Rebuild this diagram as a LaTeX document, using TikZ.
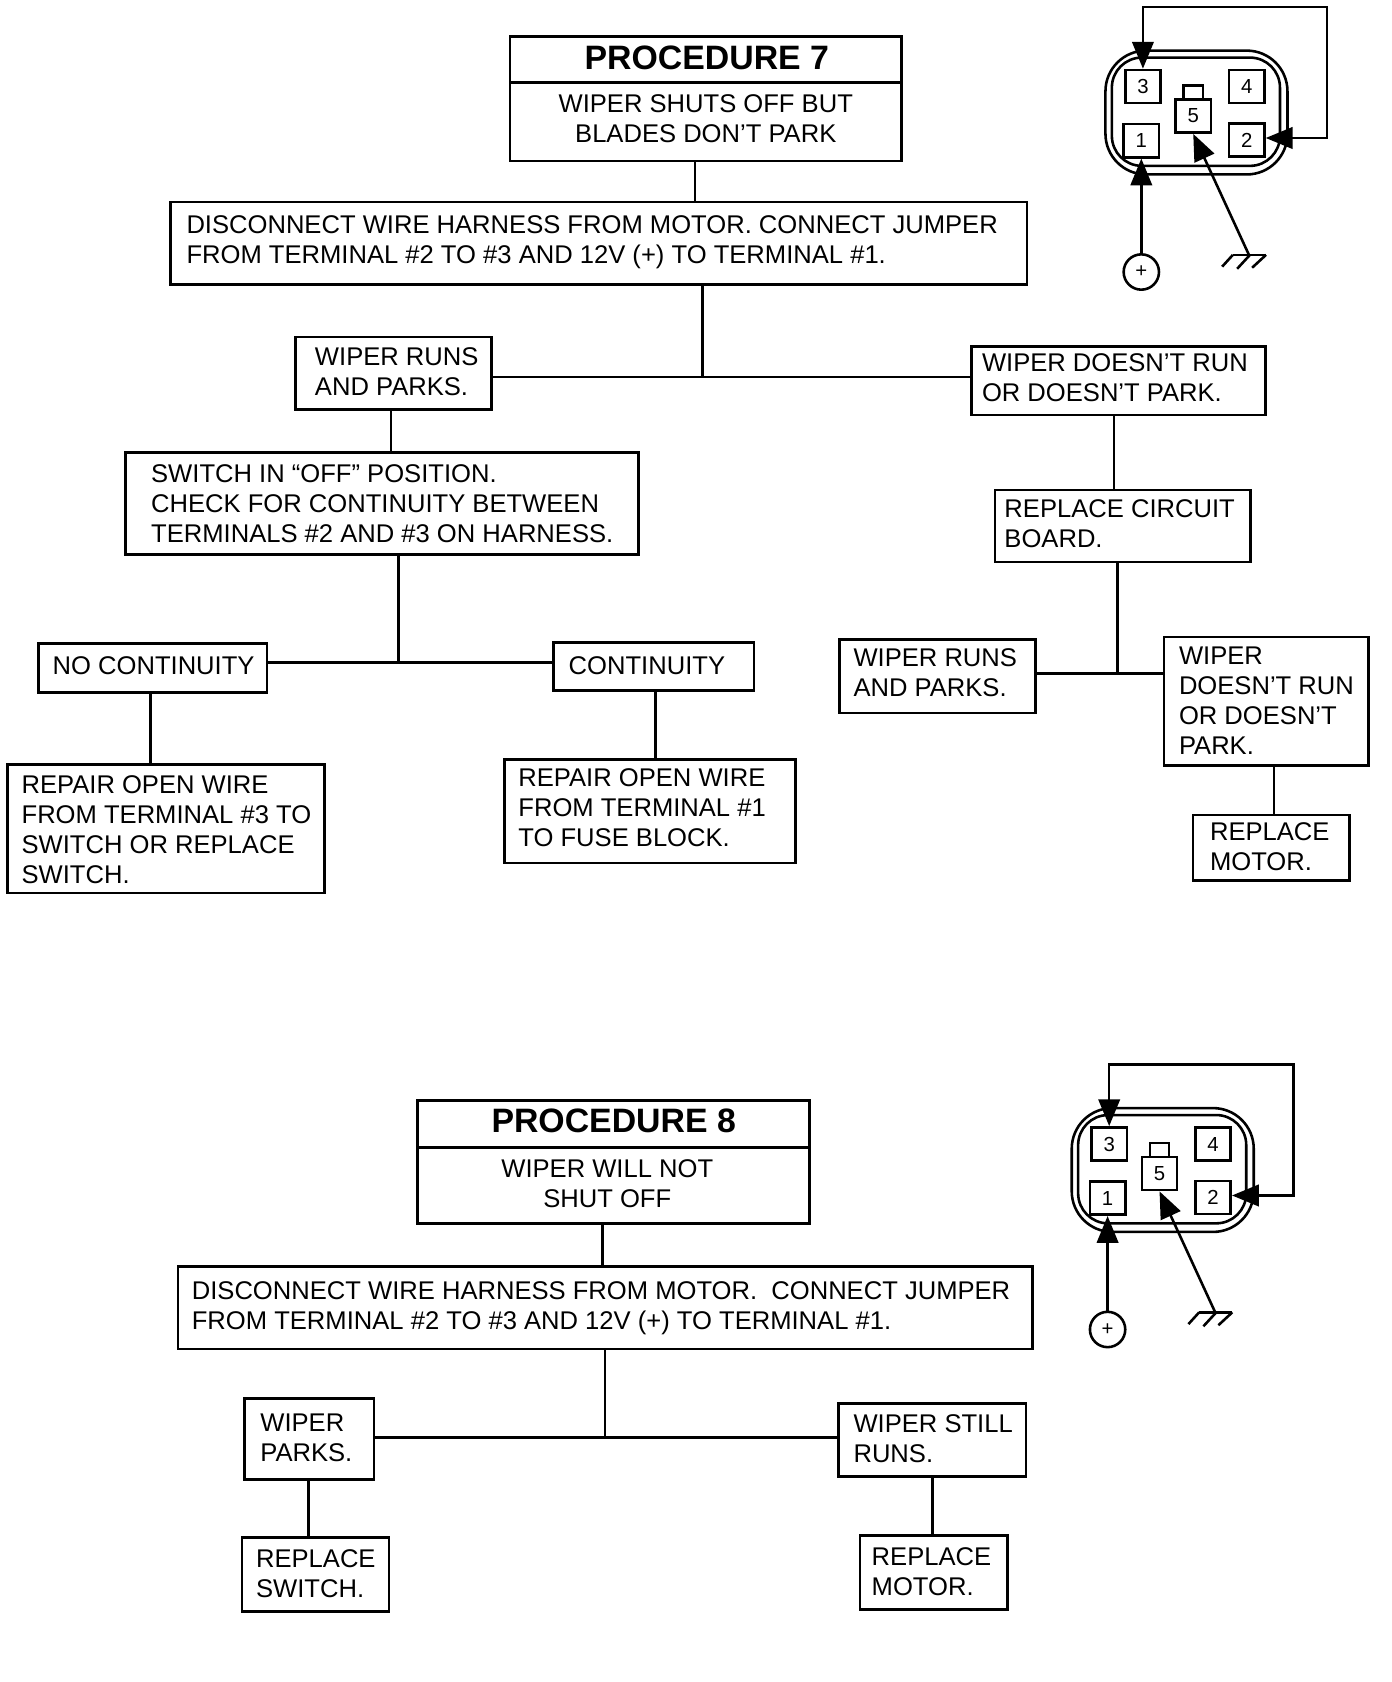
\documentclass[tikz,border=0pt]{standalone}
\usepackage{fontspec}
\setmainfont{Liberation Sans}
\usetikzlibrary{arrows.meta}
\tikzset{
  x=0.5pt,y=0.5007pt,
  boxn/.style={draw=black,line width=1.2pt,inner sep=0pt,anchor=north west,font=\fontsize{11.95}{14}\selectfont},
  link/.style={draw=black,line width=1.2pt},
  term/.style={draw=black,line width=1.2pt,inner sep=0pt,minimum width=16.5pt,minimum height=15.5pt,font=\fontsize{9.5}{11}\selectfont},
  wire/.style={draw=black,line width=1.2pt},
  tipa/.tip={Triangle[length=12.5pt,width=10pt]},
}
\newcommand{\bx}[8]{%
  \pgfmathsetmacro\bw{(#4-#2)*0.5}\pgfmathsetmacro\bh{(#5-#3)*0.5}%
  \pgfmathsetmacro\bp{(#6-#2)*0.5}\pgfmathsetmacro\br{((#5+#3)/2-#7)*0.5-4}%
  \node[boxn,minimum width=\bw pt,minimum height=\bh pt] (#1) at (#2,-#3)
   {\makebox[\bw pt][l]{\hspace*{\bp pt}\raisebox{\br pt}[0pt][0pt]{\begin{tabular}[c]{@{}l@{}}#8\end{tabular}}}};}
\newcommand{\bxc}[9]{%
  \pgfmathsetmacro\bw{(#4-#2)*0.5}\pgfmathsetmacro\bh{(#5-#3)*0.5}%
  \pgfmathsetmacro\bp{(#6-(#2+#4)/2)}\pgfmathsetmacro\br{((#5+#3)/2-#7)*0.5-4}%
  \node[boxn,minimum width=\bw pt,minimum height=\bh pt] (#1) at (#2,-#3)
   {\makebox[\bw pt][c]{\hspace*{\bp pt}\raisebox{\br pt}[0pt][0pt]{\begin{tabular}[c]{@{}c@{}}#9#8\end{tabular}}}};}
\newcommand{\vc}[3]{\coordinate (tmpx) at (#3,0); \draw[link] (#1.south -| tmpx) -- (#2.north -| tmpx);}
\newcommand{\connector}[3]{%
 \begin{scope}[shift={(#2,-#3)}]
  \draw[wire,rounded corners=19pt] (1028,-46.5) rectangle (1198,-162);
  \draw[wire,rounded corners=14pt] (1034,-53) rectangle (1191,-154);
  \node[term] (#1t3) at (1063,-80) {3};
  \node[term] (#1t4) at (1160,-80) {4};
  \node[term] (#1t1) at (1061.5,-130.5) {1};
  \node[term] (#1t2) at (1160,-130) {2};
  \node[term] (#1t5) at (1110,-107.5) {5};
  \draw[wire] (#1t5.north -| 1101,0) -- (1101,-79) -- (1119,-79) -- (#1t5.north -| 1119,0);
  \coordinate (#1ja) at (#1t3.north |- 0,-6);
  \coordinate (#1jb) at (1235,-6);
  \coordinate (#1jc) at (1235,-128);
  \draw[wire,{tipa}-{tipa}] (#1t3.north) -- (#1ja) -- (#1jb) -- (#1jc) -- (#1t2.east |- #1jc);
  \node[draw=black,line width=1.2pt,circle,inner sep=0pt,minimum size=16.5pt,font=\fontsize{9.5}{11}\selectfont] (#1plus) at (#1t1.south |- 0,-253) {+};
  \draw[wire,{tipa}-] (#1t1.south) -- (#1plus.north);
  \coordinate (#1g) at (1162,-237);
  \draw[wire,{tipa}-] (#1t5.south) -- (#1g);
  \draw[wire] (1147,-237) -- (1178,-237);
  \draw[wire] (1147,-237) -- (1137,-248);
  \draw[wire] (1163,-237) -- (1151,-250);
  \draw[wire] (1178,-237) -- (1165,-249);
 \end{scope}}
\begin{document}
\begin{tikzpicture}
\useasboundingbox (0,0) rectangle (1300,-1568.8);
% Procedure 7
\bxc{ptitle}{475}{33}{841}{76}{659}{54.5}{PROCEDURE 7}{\fontsize{15.8}{18}\selectfont\bfseries}
\bxc{psub}{475}{76}{841}{149}{658}{110}{WIPER SHUTS OFF BUT\\BLADES DON’T PARK}{}
\bx{done}{158}{187}{958}{264}{173}{223}{DISCONNECT WIRE HARNESS FROM MOTOR. CONNECT JUMPER\\FROM TERMINAL \#2 TO \#3 AND 12V (+) TO TERMINAL \#1.}
\bx{wr}{275}{313}{458}{381}{293}{346.5}{WIPER RUNS\\AND PARKS.}
\bx{wd}{906}{322}{1181}{386}{916}{352}{WIPER DOESN’T RUN\\OR DOESN’T PARK.}
\bx{sw}{116}{421}{595}{516}{140}{469}{SWITCH IN “OFF” POSITION.\\CHECK FOR CONTINUITY BETWEEN\\TERMINALS \#2 AND \#3 ON HARNESS.}
\bx{nc}{35}{599}{248}{645}{48}{620}{NO CONTINUITY}
\bx{co}{516}{598}{703}{643}{530}{620}{CONTINUITY}
\bx{ra}{6}{712}{302}{832}{19}{773}{REPAIR OPEN WIRE\\FROM TERMINAL \#3 TO\\SWITCH OR REPLACE\\SWITCH.}
\bx{rb}{470}{707}{742}{804}{483}{753}{REPAIR OPEN WIRE\\FROM TERMINAL \#1\\TO FUSE BLOCK.}
\bx{rc}{928}{456}{1167}{523}{937}{488}{REPLACE CIRCUIT\\BOARD.}
\bx{wrb}{783}{595}{966}{664}{796}{627}{WIPER RUNS\\AND PARKS.}
\bx{wdb}{1086}{593}{1277}{713}{1100}{653}{WIPER\\DOESN’T RUN\\OR DOESN’T\\PARK.}
\bx{rm}{1113}{759}{1259}{820}{1129}{789}{REPLACE\\MOTOR.}
\vc{psub}{done}{649}
\coordinate (ja) at (656,-351.5);
\draw[link] (done.south -| ja) -- (ja);
\draw[link] (wr.east |- ja) -- (wd.west |- ja);
\vc{wr}{sw}{365}
\coordinate (jb) at (372,-618);
\draw[link] (sw.south -| jb) -- (jb);
\draw[link] (nc.east |- jb) -- (co.west |- jb);
\vc{nc}{ra}{140.5}
\vc{co}{rb}{612}
\vc{wd}{rc}{1040.5}
\coordinate (jc) at (1044,-628);
\draw[link] (rc.south -| jc) -- (jc);
\draw[link] (wrb.east |- jc) -- (wdb.west |- jc);
\vc{wdb}{rm}{1190}
\connector{a}{4.5}{0.7}
% Procedure 8
\bxc{qtitle}{389}{1025}{755}{1069}{572}{1046}{PROCEDURE 8}{\fontsize{15.8}{18}\selectfont\bfseries}
\bxc{qsub}{389}{1069}{755}{1140}{566}{1103.5}{WIPER WILL NOT\\SHUT OFF}{}
\bx{dtwo}{165}{1180}{963}{1257}{178}{1217}{DISCONNECT WIRE HARNESS FROM MOTOR.\ \ CONNECT JUMPER\\FROM TERMINAL \#2 TO \#3 AND 12V (+) TO TERMINAL \#1.}
\bx{wp}{227}{1303}{348}{1379}{242}{1340}{WIPER\\PARKS.}
\bx{ws}{782}{1308}{957}{1376}{796}{1341}{WIPER STILL\\RUNS.}
\bx{rs}{225}{1433}{362}{1502}{238}{1467.5}{REPLACE\\SWITCH.}
\bx{rn}{802}{1431}{940}{1500}{813}{1465}{REPLACE\\MOTOR.}
\vc{qsub}{dtwo}{563}
\coordinate (jd) at (565,-1341);
\draw[link] (dtwo.south -| jd) -- (jd);
\draw[link] (wp.east |- jd) -- (ws.west |- jd);
\vc{wp}{rs}{288}
\vc{ws}{rn}{871}
\connector{b}{-27}{987}
\end{tikzpicture}
\end{document}
